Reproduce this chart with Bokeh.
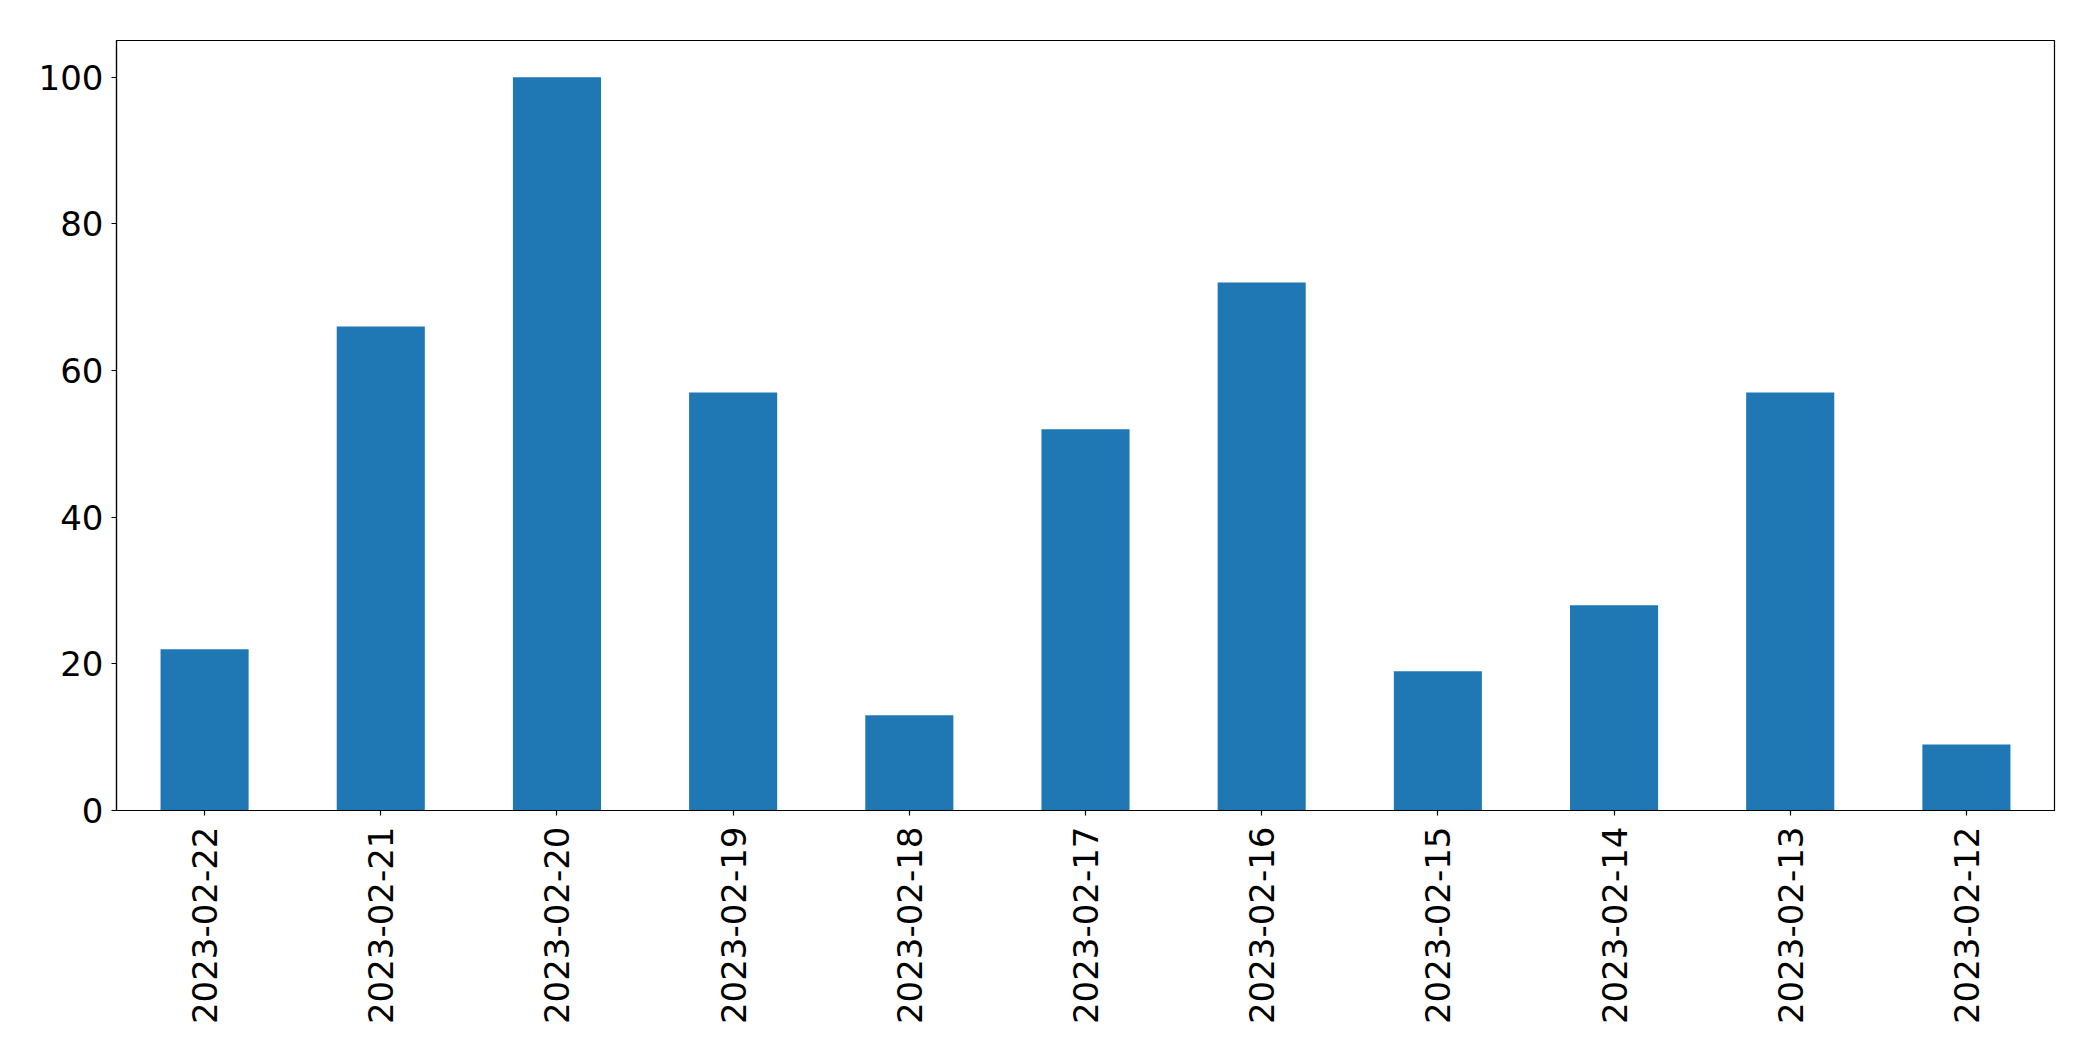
import math
from bokeh.plotting import figure
from bokeh.models import FactorRange, Range1d, FixedTicker
from bokeh.embed import file_html
from bokeh.resources import INLINE

dates = ["2023-02-22", "2023-02-21", "2023-02-20", "2023-02-19", "2023-02-18",
         "2023-02-17", "2023-02-16", "2023-02-15", "2023-02-14", "2023-02-13", "2023-02-12"]
counts = [22, 66, 100, 57, 13, 52, 72, 19, 28, 57, 9]
y_ticks = [0, 20, 40, 60, 80, 100]

p = figure(x_range=FactorRange(factors=dates), y_range=Range1d(0, 105),
           frame_width=1938, frame_height=770,
           min_border_left=116, min_border_right=30, min_border_top=40, min_border_bottom=230,
           output_backend="svg", toolbar_location=None)

p.vbar(x=dates, top=counts, width=0.5, bottom=0, color="#1f77b4", line_color=None)

p.xgrid.visible = False
p.ygrid.visible = False
p.outline_line_color = "black"
p.outline_line_alpha = 1.0
p.outline_line_width = 1.2
p.background_fill_color = "white"
p.border_fill_color = "white"

p.yaxis.ticker = FixedTicker(ticks=y_ticks)
for ax in (p.xaxis[0], p.yaxis[0]):
    ax.axis_line_color = "black"
    ax.axis_line_width = 1.2
    ax.major_tick_line_color = "black"
    ax.major_tick_line_width = 1.2
    ax.major_tick_out = 5
    ax.major_tick_in = 0
    ax.minor_tick_line_color = None
    ax.major_label_text_font = "DejaVu Sans"
    ax.major_label_text_font_size = "34px"
    ax.major_label_text_color = "black"

p.yaxis.major_label_standoff = 8
p.xaxis.major_label_standoff = 11
p.xaxis.major_label_orientation = math.pi / 2

open("out.html", "w").write(file_html(p, INLINE))
